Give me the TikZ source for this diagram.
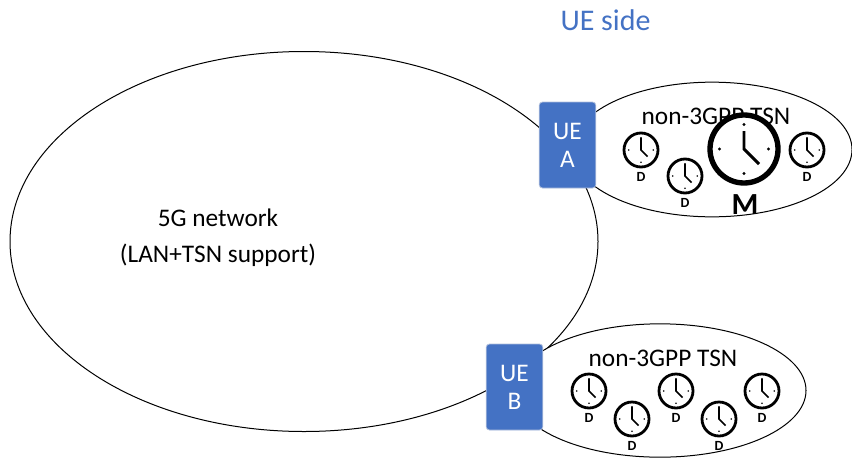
\documentclass[tikz,border=0pt]{standalone}
\usepackage{fontspec}
\setmainfont{Carlito}
\usetikzlibrary{positioning,shapes.geometric}
\definecolor{uefill}{RGB}{68,114,196}
\definecolor{ueline}{RGB}{175,190,220}
\tikzset{
  cloudarea/.style={draw,ellipse,inner sep=0pt,line width=0.75pt,fill=white},
  uebox/.style={draw=ueline,fill=uefill,rounded corners=2.5pt,line width=0.6pt,minimum width=42.5pt,minimum height=64.5pt,inner sep=0pt,text=white,align=center,font=\fontsize{19}{21}\selectfont},
  areatext/.style={inner sep=0.75pt,align=center,font=\fontsize{19}{27}\selectfont},
  clockrole/.style={inner sep=0pt,font=\bfseries\fontsize{#1}{#1}\selectfont},
}
% clock: x, y, radius, ring width, name, minute hand, hour hand
\newcommand{\clockface}[7]{
  \node (#5) at (#1,#2) [circle,draw,fill=white,inner sep=0pt,line width=#4,minimum size=#3*1.5pt] {};
  \begin{scope}[shift={(#1,#2)}]
    \foreach \a in {0,90,180,270} \fill (\a:#3*0.72) circle [radius=#3*0.04+0.2];
    \draw [line width=#4*0.55] (0,-#6) -- (0,0) -- (#7,#7);
  \end{scope}
}
\begin{document}
\begin{tikzpicture}[x=0.75pt,y=0.75pt,yscale=-1,xscale=1]
\useasboundingbox (0,0) rectangle (852,457);

%Shape: areas
\node (fiveg) at (304,241.5) [cloudarea,minimum width=441pt,minimum height=285pt] {};
\node (tsna) at (712,149.5) [cloudarea,minimum width=210pt,minimum height=101pt] {};
\node (tsnb) at (660,390.5) [cloudarea,minimum width=219pt,minimum height=100pt] {};

%Shape: UE boxes
\node (uea) at (567.5,145) [uebox] {UE\\A};
\node (ueb) at (514.5,387) [uebox] {UE\\B};

% Text Node
\node (sidelabel) at (605.5,20) [inner sep=0.75pt,text=uefill,font=\fontsize{22.5}{24}\selectfont] {UE side};
\node (fivegtext) at (218,238) [areatext] {5G network\\(LAN+TSN support)};
\node (tsnatext) at (716,116) [areatext] {non-3GPP TSN};
\node (tsnbtext) at (663,358) [areatext] {non-3GPP TSN};

%Shape: slave clocks
\foreach \cx/\cy/\cname in {641/150/ca,685/176/cb,807/150/cc,589/391/cd,632/419/ce,676/391/cf,719/419/cg,762/391/ch}{
  \clockface{\cx}{\cy}{17}{2.1pt}{\cname}{12}{6.5}
  \node (\cname d) at (\cx,\cy+26.5) [clockrole=10.5] {D};
}
%Shape: master clock
\clockface{744}{149}{34}{4pt}{cm}{18}{15}
\node (cmm) at (745,205) [clockrole=23] {M};

\end{tikzpicture}
\end{document}
